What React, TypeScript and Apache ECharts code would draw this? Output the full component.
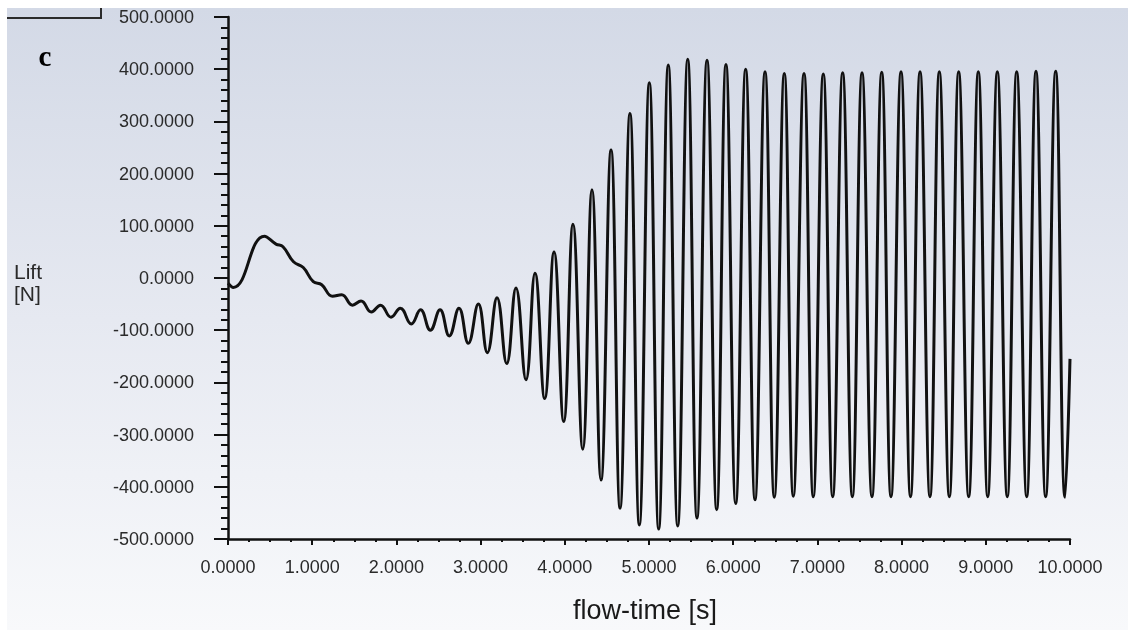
import React, { useEffect, useRef } from "react";
import * as echarts from "echarts";

// flow-time [s] of each turning point
const flowTime: number[] = [
  0.0, 0.063, 0.433, 0.57, 0.653, 0.778, 0.894, 1.013, 1.113, 1.241,
  1.35, 1.479, 1.58, 1.702, 1.811, 1.936, 2.046, 2.177, 2.286, 2.403,
  2.518, 2.628, 2.743, 2.854, 2.973, 3.08, 3.195, 3.31, 3.42, 3.539,
  3.646, 3.761, 3.872, 3.987, 4.097, 4.213, 4.323, 4.43, 4.549, 4.656,
  4.774, 4.885, 5.004, 5.115, 5.229, 5.341, 5.46, 5.57, 5.689, 5.804,
  5.914, 6.03, 6.148, 6.259, 6.378, 6.488, 6.607, 6.714, 6.841, 6.951,
  7.07, 7.182, 7.3, 7.415, 7.53, 7.648, 7.764, 7.874, 7.993, 8.106,
  8.219, 8.337, 8.448, 8.567, 8.678, 8.797, 8.911, 9.023, 9.137, 9.255,
  9.367, 9.486, 9.596, 9.711, 9.83, 9.941, 10.0,
];

// Lift [N] at those points
const lift: number[] = [
  -10, -18, 80, 65, 60, 31, 20, -7, -13, -35,
  -32, -52, -44, -65, -52, -75, -58, -88, -61, -100,
  -61, -111, -58, -125, -50, -143, -38, -164, -19, -195,
  9, -231, 50, -275, 103, -328, 169, -387, 245, -441,
  315, -473, 374, -481, 408, -475, 419, -460, 417, -444,
  409, -432, 400, -425, 395, -420, 392, -418, 392, -419,
  391, -419, 393, -419, 393, -419, 394, -419, 395, -419,
  395, -419, 395, -419, 395, -419, 395, -419, 395, -419,
  395, -419, 396, -419, 396, -420, -155,
];

const xTicks = { min: 0, max: 10, interval: 1 };
const yTicks = { min: -500, max: 500, interval: 100 };

export default function App() {
  const ref = useRef<HTMLDivElement>(null);

  useEffect(() => {
    if (!ref.current) return;
    const chart = echarts.init(ref.current, undefined, { renderer: "svg" });
    const data = flowTime.map((t, i) => [t, lift[i]]);
    const labelFont = "Liberation Sans, Arial, sans-serif";
    chart.setOption({
      animation: false,
      grid: {
        left: 228,
        right: 58,
        top: 17,
        bottom: 91,
        outerBoundsMode: "none",
        containLabel: false,
      },
      graphic: [
        {
          type: "rect",
          z: -100,
          silent: true,
          shape: { x: 7, y: 8, width: 1121, height: 622 },
          style: {
            fill: new echarts.graphic.LinearGradient(0, 0, 0, 1, [
              { offset: 0, color: "#d3d9e6" },
              { offset: 0.5, color: "#e6e9f1" },
              { offset: 1, color: "#f8f9fb" },
            ]),
          },
        },
        {
          type: "polyline",
          silent: true,
          shape: { points: [[7, 18], [101, 18], [101, 8]] },
          style: { stroke: "#2b2b2b", lineWidth: 2, fill: "none" },
        },
        {
          type: "text",
          x: 45,
          y: 56,
          style: {
            text: "c",
            font: "bold 29px 'Liberation Serif', 'Times New Roman', serif",
            fill: "#000",
            align: "center",
            verticalAlign: "middle",
          },
        },
        {
          type: "text",
          x: 14,
          y: 260,
          style: {
            text: "Lift\n[N]",
            font: "21px 'Liberation Sans', Arial, sans-serif",
            lineHeight: 22,
            fill: "#2a2a2a",
            align: "left",
            verticalAlign: "top",
          },
        },
        {
          type: "text",
          x: 645,
          y: 610,
          style: {
            text: "flow-time [s]",
            font: "27px 'Liberation Sans', Arial, sans-serif",
            fill: "#1a1a1a",
            align: "center",
            verticalAlign: "middle",
          },
        },
      ],
      xAxis: {
        type: "value",
        min: xTicks.min,
        max: xTicks.max,
        interval: xTicks.interval,
        axisLine: { show: true, onZero: false, lineStyle: { color: "#111", width: 2.5 } },
        axisTick: { show: true, length: 6, lineStyle: { color: "#111", width: 2 } },
        minorTick: { show: true, splitNumber: 4, length: 3, lineStyle: { color: "#111", width: 2 } },
        splitLine: { show: false },
        axisLabel: {
          margin: 19,
          color: "#2a2a2a",
          fontSize: 18,
          fontFamily: labelFont,
          formatter: (v: number) => v.toFixed(4),
        },
      },
      yAxis: {
        type: "value",
        min: yTicks.min,
        max: yTicks.max,
        interval: yTicks.interval,
        axisLine: { show: true, onZero: false, lineStyle: { color: "#111", width: 2.5 } },
        axisTick: { show: true, length: 14, lineStyle: { color: "#111", width: 2 } },
        minorTick: { show: true, splitNumber: 5, length: 7, lineStyle: { color: "#111", width: 2 } },
        splitLine: { show: false },
        axisLabel: {
          margin: 34,
          color: "#2a2a2a",
          fontSize: 18,
          fontFamily: labelFont,
          formatter: (v: number) => v.toFixed(4),
        },
      },
      series: [
        {
          type: "line",
          data,
          showSymbol: false,
          smooth: 0.45,
          lineStyle: { color: "#111", width: 3 },
          z: 3,
        },
      ],
    });
    return () => chart.dispose();
  }, []);

  return (
    <div
      ref={ref}
      style={{ position: "fixed", left: 0, top: 0, width: 1128, height: 630 }}
    />
  );
}
